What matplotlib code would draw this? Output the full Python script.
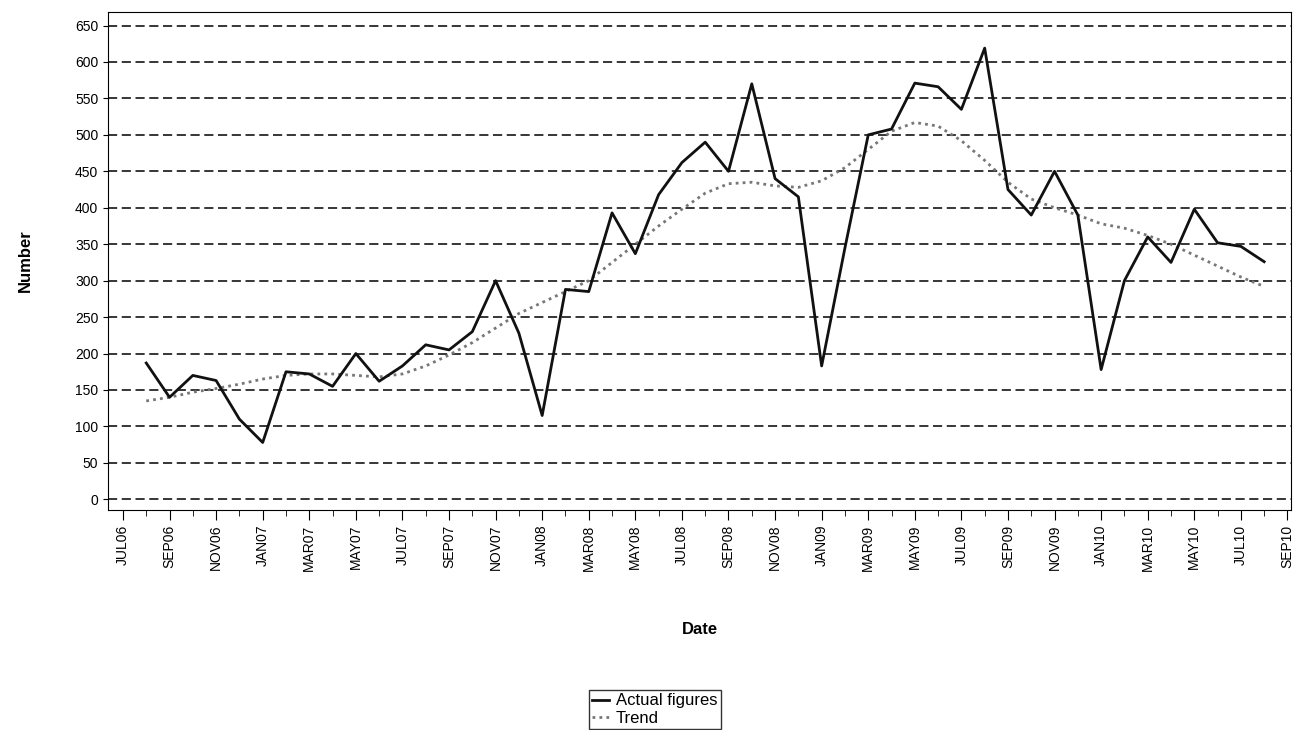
import matplotlib.pyplot as plt
import numpy as np

plt.rcParams['font.family'] = ['Liberation Sans', 'DejaVu Sans']

# months from JUL06 (index 0); data starts AUG06
actual = [187, 140, 170, 163, 110, 78, 175, 172, 155, 200, 162, 183, 212, 205, 230, 300,
          228, 115, 288, 285, 393, 337, 418, 462, 490, 450, 570, 440, 415, 183, 345, 500,
          508, 571, 566, 535, 619, 425, 390, 450, 390, 178, 300, 360, 325, 398, 352, 347, 326]
trend = [135, 140, 147, 152, 158, 165, 170, 172, 172, 170, 168, 172, 183, 198, 215, 235,
         255, 270, 285, 300, 325, 350, 375, 398, 420, 433, 435, 430, 428, 437, 455, 480,
         505, 517, 512, 492, 465, 435, 412, 400, 390, 378, 372, 362, 350, 335, 320, 305, 292]
tick_labels = ['JUL06', 'SEP06', 'NOV06', 'JAN07', 'MAR07', 'MAY07', 'JUL07', 'SEP07',
               'NOV07', 'JAN08', 'MAR08', 'MAY08', 'JUL08', 'SEP08', 'NOV08', 'JAN09',
               'MAR09', 'MAY09', 'JUL09', 'SEP09', 'NOV09', 'JAN10', 'MAR10', 'MAY10',
               'JUL10', 'SEP10']

x = np.arange(1, len(actual) + 1)

fig = plt.figure(figsize=(12.94, 7.30), dpi=100)
ax = fig.add_axes([0.0835, 0.301, 0.9145, 0.683])

for v in range(0, 700, 50):
    ax.axhline(v, color='black', lw=1.1, ls=(0, (6, 3)), zorder=1)

ax.plot(x, actual, color='#111111', lw=2, label='Actual figures', zorder=3)
ax.plot(x, trend, color='#777777', lw=2, ls=(0, (1, 1.5)), label='Trend', zorder=2)

ax.set_xlim(-0.64, 50.17)
ax.set_ylim(-15, 669)
ax.set_yticks(range(0, 700, 50))
ax.set_xticks(range(0, 51, 2))
ax.set_xticklabels(tick_labels, rotation=90)
ax.set_xticks(range(0, 51), minor=True)
ax.tick_params(axis='both', labelsize=10)
ax.tick_params(axis='x', which='major', length=7)
ax.tick_params(axis='x', which='minor', length=4)
ax.set_xlabel('Date', fontweight='bold', fontsize=12, labelpad=37)
ax.set_ylabel('Number', fontweight='bold', fontsize=12, labelpad=30)

leg = fig.legend(loc='upper center', bbox_to_anchor=(0.506, 0.066), fontsize=12,
                 frameon=True, fancybox=False, edgecolor='black', handlelength=1,
                 handletextpad=0.4, borderpad=0.2, labelspacing=0.15)
leg.get_frame().set_linewidth(1)

fig.savefig('out.png', dpi=100)
